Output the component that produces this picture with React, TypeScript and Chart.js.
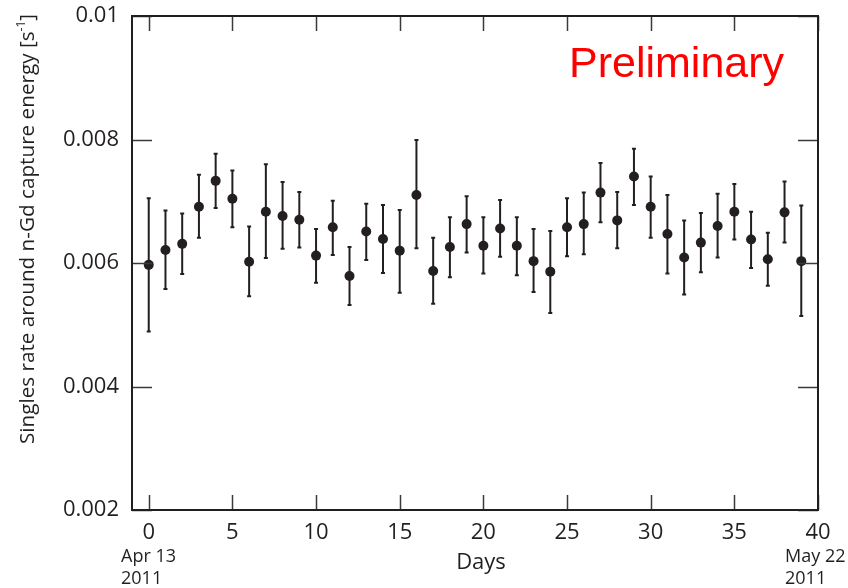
import React, { useEffect, useRef } from "react";
import { Chart, registerables } from "chart.js";

Chart.register(...registerables);

const days = [0, 1, 2, 3, 4, 5, 6, 7, 8, 9, 10, 11, 12, 13, 14, 15, 16, 17, 18, 19, 20, 21, 22, 23, 24, 25, 26, 27, 28, 29, 30, 31, 32, 33, 34, 35, 36, 37, 38, 39];
const rates = [0.00597, 0.00621, 0.00631, 0.00691, 0.00733, 0.00704, 0.00602, 0.00683, 0.00676, 0.0067, 0.00612, 0.00658, 0.00579, 0.00651, 0.00639, 0.0062, 0.0071, 0.00587, 0.00626, 0.00663, 0.00628, 0.00656, 0.00628, 0.00603, 0.00586, 0.00658, 0.00663, 0.00714, 0.00669, 0.0074, 0.00691, 0.00647, 0.00609, 0.00633, 0.0066, 0.00683, 0.00638, 0.00606, 0.00682, 0.00603];
const upper = [0.00705, 0.00685, 0.0068, 0.00743, 0.00777, 0.0075, 0.00659, 0.0076, 0.00731, 0.00715, 0.00655, 0.00701, 0.00626, 0.00696, 0.00694, 0.00686, 0.00799, 0.00641, 0.00674, 0.00708, 0.00674, 0.00702, 0.00674, 0.00655, 0.00652, 0.00705, 0.00714, 0.00762, 0.00715, 0.00785, 0.0074, 0.0071, 0.00669, 0.00681, 0.00712, 0.00728, 0.00683, 0.00649, 0.00732, 0.00693];
const lower = [0.00489, 0.00558, 0.00582, 0.00641, 0.00689, 0.00658, 0.00546, 0.00608, 0.00623, 0.00625, 0.00568, 0.00613, 0.00532, 0.00605, 0.00584, 0.00552, 0.00624, 0.00534, 0.00577, 0.00617, 0.00583, 0.0061, 0.0058, 0.00553, 0.00519, 0.00611, 0.00614, 0.00666, 0.00624, 0.00694, 0.00641, 0.00583, 0.00549, 0.00585, 0.00609, 0.00638, 0.00592, 0.00563, 0.00633, 0.00514];

const xTicks = [0, 5, 10, 15, 20, 25, 30, 35, 40];
const yTicks = [0.002, 0.004, 0.006, 0.008, 0.01];
const yTitleMain = "Singles rate around n-Gd capture energy [s";
const yTitleSup = "-1";
const yTitleEnd = "]";
const xTitle = "Days";
const startDate = ["Apr 13", "2011"];
const endDate = ["May 22", "2011"];
const stamp = "Preliminary";

const INK = "#231f20";
const FONT = "'Open Sans', sans-serif";

const decorPlugin = {
  id: "decor",
  beforeDatasetsDraw(chart: any) {
    const { ctx, scales } = chart;
    const xs = scales.x;
    const ys = scales.y;
    ctx.save();
    ctx.strokeStyle = INK;
    ctx.lineWidth = 2;
    for (let i = 0; i < days.length; i++) {
      const px = xs.getPixelForValue(days[i]);
      const pt = ys.getPixelForValue(upper[i]);
      const pb = ys.getPixelForValue(lower[i]);
      ctx.beginPath();
      ctx.moveTo(px, pt);
      ctx.lineTo(px, pb);
      ctx.stroke();
      ctx.beginPath();
      ctx.moveTo(px - 2, pt);
      ctx.lineTo(px + 2, pt);
      ctx.moveTo(px - 2, pb);
      ctx.lineTo(px + 2, pb);
      ctx.stroke();
    }
    ctx.restore();
  },
  afterDraw(chart: any) {
    const { ctx, chartArea, scales } = chart;
    const { left, right, top, bottom } = chartArea;
    const xs = scales.x;
    const ys = scales.y;
    ctx.save();
    ctx.strokeStyle = "#3a3a3a";
    ctx.lineWidth = 1.5;
    xTicks.forEach((v) => {
      const px = Math.round(xs.getPixelForValue(v)) + 0.5;
      ctx.beginPath();
      ctx.moveTo(px, bottom);
      ctx.lineTo(px, bottom - 15);
      ctx.moveTo(px, top);
      ctx.lineTo(px, top + 15);
      ctx.stroke();
    });
    yTicks.forEach((v) => {
      const py = Math.round(ys.getPixelForValue(v)) + 0.5;
      ctx.beginPath();
      ctx.moveTo(left, py);
      ctx.lineTo(left + 20, py);
      ctx.moveTo(right, py);
      ctx.lineTo(right - 20, py);
      ctx.stroke();
    });
    ctx.strokeStyle = INK;
    ctx.lineWidth = 2;
    ctx.strokeRect(left, top, right - left, bottom - top);

    // y title
    ctx.fillStyle = INK;
    ctx.translate(27, 229);
    ctx.rotate(-Math.PI / 2);
    ctx.font = `20.7px ${FONT}`;
    const wMain = ctx.measureText(yTitleMain).width;
    ctx.font = `12px ${FONT}`;
    const wSup = ctx.measureText(yTitleSup).width;
    ctx.font = `20.7px ${FONT}`;
    const wEnd = ctx.measureText(yTitleEnd).width;
    const total = wMain + wSup + wEnd;
    let x0 = -total / 2;
    ctx.textBaseline = "alphabetic";
    ctx.textAlign = "left";
    ctx.fillText(yTitleMain, x0, 7);
    x0 += wMain;
    ctx.font = `12px ${FONT}`;
    ctx.fillText(yTitleSup, x0, -2);
    x0 += wSup;
    ctx.font = `20.7px ${FONT}`;
    ctx.fillText(yTitleEnd, x0, 7);
    ctx.setTransform(1, 0, 0, 1, 0, 0);

    // x title
    ctx.font = `22px ${FONT}`;
    ctx.textAlign = "center";
    ctx.fillText(xTitle, 481, 569);

    // date labels
    ctx.font = `18px ${FONT}`;
    ctx.textAlign = "left";
    ctx.fillText(startDate[0], 121, 562);
    ctx.fillText(startDate[1], 121, 584);
    ctx.fillText(endDate[0], 785, 562);
    ctx.fillText(endDate[1], 785, 584);

    // stamp
    ctx.fillStyle = "#ff0000";
    ctx.font = "43px 'Liberation Sans', Arial, sans-serif";
    ctx.textAlign = "left";
    ctx.fillText(stamp, 569, 77);
    ctx.restore();
  },
};

export default function App() {
  const canvasRef = useRef<HTMLCanvasElement | null>(null);
  useEffect(() => {
    const canvas = canvasRef.current;
    if (!canvas) return;
    const chart = new Chart(canvas, {
      type: "scatter",
      data: {
        datasets: [
          {
            label: "rate",
            data: days.map((d, i) => ({ x: d, y: rates[i] })),
            backgroundColor: INK,
            borderColor: INK,
            pointRadius: 5,
            pointBorderWidth: 0,
          },
        ],
      },
      options: {
        responsive: false,
        animation: false,
        layout: { padding: { top: 16, right: 30, left: 0, bottom: 0 } },
        plugins: {
          legend: { display: false },
          tooltip: { enabled: false },
          title: { display: false },
        },
        scales: {
          x: {
            type: "linear",
            min: -1,
            max: 40,
            grid: { display: false, drawTicks: false },
            border: { display: false },
            afterBuildTicks: (scale: any) => {
              scale.ticks = xTicks.map((v) => ({ value: v }));
            },
            afterFit: (scale: any) => {
              scale.height = 78;
              scale.paddingLeft = 0;
              scale.paddingRight = 0;
            },
            ticks: {
              color: INK,
              font: { family: FONT, size: 22 },
              padding: 10,
              maxRotation: 0,
              autoSkip: false,
              callback: (v: any) => String(v),
            },
          },
          y: {
            type: "linear",
            min: 0.002,
            max: 0.01,
            grid: { display: false, drawTicks: false },
            border: { display: false },
            afterBuildTicks: (scale: any) => {
              scale.ticks = yTicks.map((v) => ({ value: v }));
            },
            afterFit: (scale: any) => {
              scale.width = 132;
              scale.paddingTop = 0;
              scale.paddingBottom = 0;
            },
            ticks: {
              color: INK,
              font: { family: FONT, size: 22 },
              padding: 13,
              autoSkip: false,
              callback: (v: any) => String(Number(Number(v).toFixed(3))),
            },
          },
        },
      },
      plugins: [decorPlugin],
    });
    return () => chart.destroy();
  }, []);
  return (
    <div style={{ position: "fixed", left: 0, top: 0, width: 848, height: 588, background: "#fff" }}>
      <canvas ref={canvasRef} width={848} height={588} style={{ display: "block" }} />
    </div>
  );
}
